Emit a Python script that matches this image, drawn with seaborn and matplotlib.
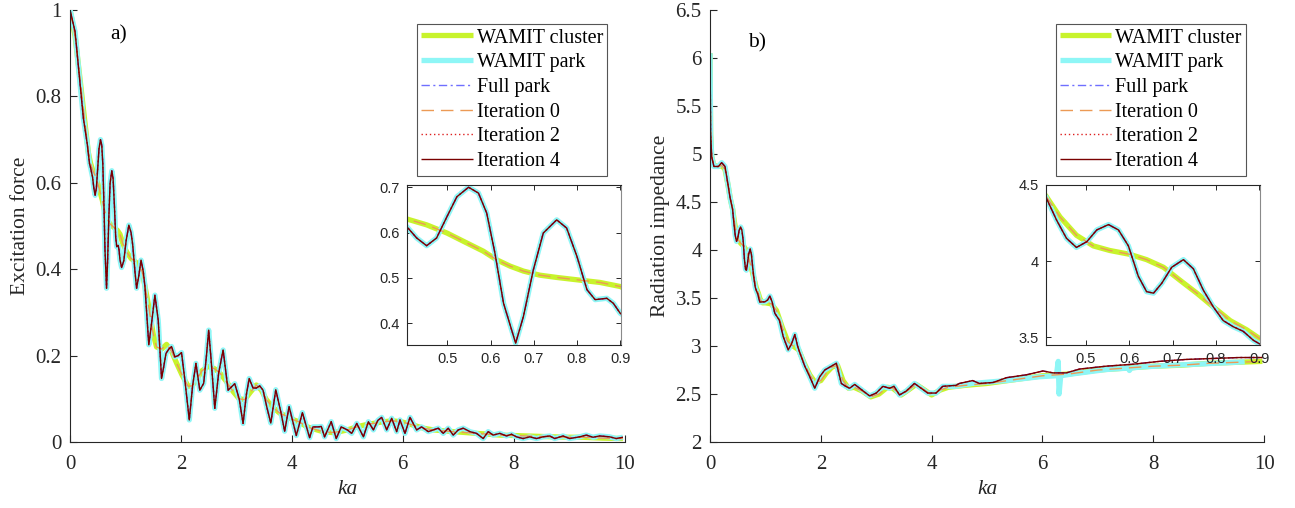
import matplotlib
matplotlib.use("Agg")
import matplotlib.pyplot as plt
import seaborn as sns
from matplotlib.ticker import FuncFormatter

# ---------------------------------------------------------------------------
# a) Excitation force versus ka
# ---------------------------------------------------------------------------
ka_park_a = [
    0.00, 0.09, 0.18, 0.24, 0.31, 0.35, 0.37, 0.406, 0.429, 0.452, 0.475, 0.499,
    0.522, 0.549, 0.572, 0.591, 0.610, 0.630, 0.658, 0.676, 0.699, 0.722, 0.753,
    0.776, 0.800, 0.823, 0.842, 0.869, 0.884, 0.900, 0.93, 0.97, 1.01, 1.06, 1.10,
    1.13, 1.17, 1.20, 1.24, 1.28, 1.32, 1.35, 1.42, 1.47, 1.53, 1.59, 1.65, 1.69,
    1.73, 1.78, 1.83, 1.89, 1.95, 2.01, 2.07, 2.15, 2.21, 2.27, 2.34, 2.41, 2.46,
    2.50, 2.55, 2.61, 2.68, 2.76, 2.85, 2.97, 3.05, 3.12, 3.18, 3.23, 3.30, 3.36,
    3.42, 3.48, 3.55, 3.62, 3.71, 3.80, 3.87, 3.95, 4.08, 4.19, 4.32, 4.38, 4.47,
    4.53, 4.59, 4.71, 4.80, 4.89, 5.00, 5.08, 5.17, 5.29, 5.38, 5.47, 5.55, 5.62,
    5.71, 5.80, 5.89, 5.95, 6.04, 6.13, 6.25, 6.34, 6.46, 6.55, 6.64, 6.73, 6.82,
    6.91, 7.00, 7.09, 7.21, 7.33, 7.45, 7.54, 7.63, 7.75, 7.87, 7.96, 8.05, 8.17,
    8.29, 8.41, 8.53, 8.65, 8.74, 8.89, 9.01, 9.19, 9.31, 9.43, 9.55, 9.73, 9.85,
    9.97,
]
force_park_a = [
    1.000, 0.950, 0.830, 0.750, 0.690, 0.645, 0.635, 0.613, 0.588, 0.571, 0.588,
    0.635, 0.679, 0.700, 0.687, 0.643, 0.555, 0.444, 0.356, 0.415, 0.518, 0.599,
    0.628, 0.610, 0.547, 0.474, 0.452, 0.455, 0.444, 0.422, 0.404, 0.420, 0.465,
    0.502, 0.485, 0.456, 0.395, 0.356, 0.385, 0.421, 0.395, 0.360, 0.225, 0.275,
    0.340, 0.282, 0.147, 0.175, 0.205, 0.215, 0.221, 0.197, 0.200, 0.207, 0.144,
    0.051, 0.130, 0.182, 0.120, 0.136, 0.200, 0.259, 0.180, 0.078, 0.160, 0.213,
    0.120, 0.135, 0.100, 0.043, 0.110, 0.147, 0.125, 0.125, 0.130, 0.120, 0.080,
    0.044, 0.121, 0.070, 0.025, 0.082, 0.015, 0.068, 0.010, 0.035, 0.035, 0.036,
    0.012, 0.047, 0.008, 0.035, 0.028, 0.020, 0.043, 0.012, 0.047, 0.028, 0.050,
    0.057, 0.028, 0.055, 0.024, 0.051, 0.020, 0.057, 0.028, 0.035, 0.024, 0.028,
    0.032, 0.020, 0.032, 0.016, 0.028, 0.032, 0.024, 0.020, 0.008, 0.024, 0.016,
    0.020, 0.014, 0.018, 0.012, 0.008, 0.012, 0.008, 0.012, 0.014, 0.008, 0.014,
    0.008, 0.012, 0.016, 0.011, 0.014, 0.012, 0.008, 0.011,
]
ka_cluster_a = [
    0.00, 0.09, 0.18, 0.25, 0.33, 0.37, 0.406, 0.452, 0.499, 0.545, 0.583, 0.614,
    0.645, 0.676, 0.714, 0.753, 0.807, 0.853, 0.900, 0.95, 1.02, 1.10, 1.20, 1.30,
    1.41, 1.50, 1.56, 1.65, 1.74, 1.83, 1.92, 2.02, 2.13, 2.20, 2.28, 2.38, 2.49,
    2.60, 2.70, 2.82, 2.94, 3.05, 3.15, 3.25, 3.36, 3.45, 3.54, 3.66, 3.78, 3.90,
    4.02, 4.14, 4.26, 4.40, 4.56, 4.72, 4.86, 5.00, 5.17, 5.33, 5.47, 5.65, 5.83,
    6.00, 6.19, 6.37, 6.55, 6.73, 6.91, 7.12, 7.33, 7.55, 7.75, 8.00, 8.23, 8.47,
    8.71, 8.98, 9.25, 9.60, 9.97,
]
force_cluster_a = [
    1.000, 0.940, 0.840, 0.760, 0.670, 0.645, 0.630, 0.617, 0.599, 0.577, 0.559,
    0.540, 0.526, 0.515, 0.506, 0.501, 0.495, 0.490, 0.481, 0.460, 0.440, 0.425,
    0.415, 0.395, 0.320, 0.250, 0.220, 0.215, 0.226, 0.210, 0.183, 0.155, 0.129,
    0.130, 0.144, 0.165, 0.175, 0.170, 0.160, 0.140, 0.117, 0.100, 0.098, 0.115,
    0.132, 0.120, 0.098, 0.080, 0.067, 0.060, 0.052, 0.046, 0.036, 0.030, 0.024,
    0.022, 0.024, 0.028, 0.035, 0.040, 0.043, 0.047, 0.049, 0.046, 0.039, 0.032,
    0.028, 0.026, 0.024, 0.022, 0.020, 0.018, 0.016, 0.015, 0.014, 0.013, 0.012,
    0.011, 0.011, 0.009, 0.008,
]

# ---------------------------------------------------------------------------
# b) Radiation impedance versus ka
# ---------------------------------------------------------------------------
ka_model_b = [
    0.00, 0.01, 0.03, 0.07, 0.15, 0.21, 0.27, 0.33, 0.36, 0.407, 0.432, 0.455,
    0.478, 0.502, 0.525, 0.552, 0.575, 0.598, 0.621, 0.640, 0.656, 0.675, 0.698,
    0.725, 0.748, 0.771, 0.794, 0.817, 0.840, 0.863, 0.887, 0.901, 0.95, 0.99,
    1.04, 1.08, 1.12, 1.17, 1.25, 1.32, 1.41, 1.47, 1.53, 1.58, 1.62, 1.71, 1.80,
    1.89, 1.98, 2.07, 2.19, 2.28, 2.37, 2.45, 2.52, 2.61, 2.70, 2.88, 3.00, 3.12,
    3.24, 3.32, 3.42, 3.54, 3.69, 3.81, 3.93, 4.08, 4.20, 4.44, 4.50, 4.74, 4.86,
    5.11, 5.35, 5.71, 6.01, 6.19, 6.43, 6.67, 7.15, 7.63, 8.11, 8.59, 9.07, 9.55,
    9.97,
]
imp_model_b = [
    6.05, 5.22, 4.97, 4.87, 4.87, 4.91, 4.87, 4.66, 4.55, 4.423, 4.27, 4.15,
    4.09, 4.128, 4.205, 4.24, 4.205, 4.10, 3.90, 3.80, 3.79, 3.855, 3.96, 4.01,
    3.95, 3.81, 3.70, 3.61, 3.57, 3.54, 3.48, 3.457, 3.46, 3.46, 3.48, 3.52, 3.46,
    3.34, 3.27, 3.10, 2.96, 3.02, 3.12, 3.00, 2.93, 2.79, 2.68, 2.56, 2.68, 2.75,
    2.79, 2.82, 2.61, 2.58, 2.56, 2.60, 2.56, 2.48, 2.51, 2.58, 2.56, 2.58, 2.49,
    2.53, 2.61, 2.56, 2.51, 2.51, 2.58, 2.59, 2.61, 2.64, 2.61, 2.62, 2.67, 2.70,
    2.74, 2.72, 2.72, 2.76, 2.79, 2.81, 2.84, 2.86, 2.87, 2.88, 2.88,
]
ka_wamit_park_b = [
    0.00, 0.01, 0.03, 0.07, 0.15, 0.21, 0.27, 0.33, 0.36, 0.407, 0.432, 0.455,
    0.478, 0.502, 0.525, 0.552, 0.575, 0.598, 0.621, 0.640, 0.656, 0.675, 0.698,
    0.725, 0.748, 0.771, 0.794, 0.817, 0.840, 0.863, 0.887, 0.901, 0.95, 0.99,
    1.04, 1.08, 1.12, 1.17, 1.25, 1.32, 1.41, 1.47, 1.53, 1.58, 1.62, 1.71, 1.80,
    1.89, 1.98, 2.07, 2.19, 2.28, 2.37, 2.45, 2.52, 2.61, 2.70, 2.88, 3.00, 3.12,
    3.24, 3.32, 3.42, 3.54, 3.69, 3.81, 3.93, 4.08, 4.20, 4.44, 4.74, 5.35, 5.95,
    6.25, 6.285, 6.30, 6.33, 6.55, 7.15, 7.55, 7.57, 7.60, 7.75, 8.35, 8.95, 9.65,
]
imp_wamit_park_b = [
    6.05, 5.22, 4.97, 4.87, 4.87, 4.91, 4.87, 4.66, 4.55, 4.423, 4.27, 4.15,
    4.09, 4.128, 4.205, 4.24, 4.205, 4.10, 3.90, 3.80, 3.79, 3.855, 3.96, 4.01,
    3.95, 3.81, 3.70, 3.61, 3.57, 3.54, 3.48, 3.457, 3.46, 3.46, 3.48, 3.52, 3.46,
    3.34, 3.27, 3.10, 2.96, 3.02, 3.12, 3.00, 2.93, 2.79, 2.68, 2.56, 2.68, 2.75,
    2.79, 2.82, 2.61, 2.58, 2.56, 2.60, 2.56, 2.48, 2.51, 2.58, 2.56, 2.58, 2.49,
    2.53, 2.61, 2.56, 2.51, 2.51, 2.58, 2.58, 2.61, 2.64, 2.68, 2.69, 2.84, 2.50,
    2.69, 2.71, 2.755, 2.77, 2.745, 2.77, 2.78, 2.80, 2.815, 2.835,
]
ka_cluster_b = [
    0.00, 0.01, 0.03, 0.07, 0.15, 0.21, 0.27, 0.33, 0.37, 0.407, 0.440, 0.478,
    0.517, 0.555, 0.601, 0.640, 0.679, 0.717, 0.756, 0.794, 0.833, 0.871, 0.902,
    0.95, 1.00, 1.10, 1.20, 1.30, 1.40, 1.50, 1.60, 1.70, 1.80, 1.90, 2.00, 2.10,
    2.20, 2.30, 2.40, 2.50, 2.60, 2.75, 2.90, 3.05, 3.20, 3.30, 3.45, 3.60, 3.72,
    3.85, 4.00, 4.15, 4.30, 4.60, 5.00, 5.50, 6.00, 6.50, 7.00, 7.50, 8.00, 8.50,
    9.00, 9.50, 9.97,
]
imp_cluster_b = [
    6.05, 5.20, 4.97, 4.88, 4.87, 4.88, 4.84, 4.66, 4.52, 4.43, 4.29, 4.17,
    4.10, 4.07, 4.045, 4.01, 3.96, 3.875, 3.79, 3.70, 3.61, 3.55, 3.49,
    3.45, 3.45, 3.44, 3.37, 3.20, 3.05, 3.00, 2.96, 2.82, 2.70, 2.62, 2.64, 2.72,
    2.78, 2.80, 2.64, 2.56, 2.57, 2.53, 2.47, 2.50, 2.57, 2.56, 2.49, 2.55, 2.60,
    2.55, 2.49, 2.54, 2.57, 2.59, 2.61, 2.65, 2.69, 2.71, 2.75, 2.77, 2.79, 2.80,
    2.82, 2.83, 2.84,
]

labels = ["WAMIT cluster", "WAMIT park", "Full park",
          "Iteration 0", "Iteration 2", "Iteration 4"]

styles = {
    "WAMIT cluster": dict(color="#c8f32c", linewidth=3.8, linestyle="-"),
    "WAMIT park":    dict(color="#8ef6f6", linewidth=3.8, linestyle="-"),
    "Full park":     dict(color="#6f6fff", linewidth=1.0, linestyle=(0, (6, 2.5, 1.5, 2.5))),
    "Iteration 0":   dict(color="#ec9a55", linewidth=1.0, linestyle=(0, (9, 5))),
    "Iteration 2":   dict(color="#dd1f1f", linewidth=1.0, linestyle=(0, (1, 2))),
    "Iteration 4":   dict(color="#7a0000", linewidth=1.0, linestyle="-"),
}

sns.set_style("ticks", {"xtick.direction": "in", "ytick.direction": "in",
                        "axes.edgecolor": "#262626"})
plt.rcParams["font.family"] = ["Liberation Serif", "DejaVu Serif"]
plt.rcParams["lines.solid_capstyle"] = "butt"

SERIF = "Liberation Serif"
SANS = "Liberation Sans"
TEXT = "#262626"

fig = plt.figure(figsize=(12.95, 5.08), dpi=100)
ax_a = fig.add_axes([0.0541, 0.1299, 0.4282, 0.8504])
ax_b = fig.add_axes([0.5483, 0.1299, 0.4278, 0.8504])
in_a = fig.add_axes([0.3141, 0.3209, 0.1655, 0.3150])
in_b = fig.add_axes([0.8075, 0.3209, 0.1655, 0.3150])


def draw_series(ax, series):
    for name in labels:
        x, y = series[name]
        sns.lineplot(x=x, y=y, ax=ax, estimator=None, legend=False,
                     label=name, **styles[name])


series_a = {
    "WAMIT cluster": (ka_cluster_a, force_cluster_a),
    "WAMIT park": (ka_park_a, force_park_a),
    "Full park": (ka_park_a, force_park_a),
    "Iteration 0": (ka_cluster_a, force_cluster_a),
    "Iteration 2": (ka_park_a, force_park_a),
    "Iteration 4": (ka_park_a, force_park_a),
}
series_b = {
    "WAMIT cluster": (ka_cluster_b, imp_cluster_b),
    "WAMIT park": (ka_wamit_park_b, imp_wamit_park_b),
    "Full park": (ka_model_b, imp_model_b),
    "Iteration 0": (ka_cluster_b, imp_cluster_b),
    "Iteration 2": (ka_model_b, imp_model_b),
    "Iteration 4": (ka_model_b, imp_model_b),
}

fmt = FuncFormatter(lambda v, _: f"{v:g}")

for ax, series, ylim, yticks, ylabel, tag, tagpos in [
    (ax_a, series_a, (0, 1), [0, 0.2, 0.4, 0.6, 0.8, 1.0], "Excitation force", "a)", (0.072, 0.942)),
    (ax_b, series_b, (2, 6.5), [2, 2.5, 3, 3.5, 4, 4.5, 5, 5.5, 6, 6.5], "Radiation impedance", "b)", (0.069, 0.925)),
]:
    draw_series(ax, series)
    ax.set_xlim(0, 10)
    ax.set_ylim(*ylim)
    ax.set_xticks([0, 2, 4, 6, 8, 10])
    ax.set_yticks(yticks)
    ax.xaxis.set_major_formatter(fmt)
    ax.yaxis.set_major_formatter(fmt)
    sns.despine(ax=ax)
    for s in ("left", "bottom"):
        ax.spines[s].set_linewidth(0.8)
        ax.spines[s].set_color(TEXT)
    ax.tick_params(axis="both", direction="in", length=5, width=0.8,
                   colors=TEXT, labelsize=15, labelcolor=TEXT)
    ax.tick_params(axis="x", pad=9)
    ax.tick_params(axis="y", pad=6)
    for t in ax.get_xticklabels() + ax.get_yticklabels():
        t.set_fontfamily(SERIF)
    ax.set_xlabel("ka", fontsize=15.5, fontstyle="italic", family=SERIF,
                  color=TEXT, labelpad=5)
    ax.set_ylabel(ylabel, fontsize=15.5, family=SERIF, color=TEXT, labelpad=4)
    ax.text(tagpos[0], tagpos[1], tag, transform=ax.transAxes, fontsize=15.5,
            family=SERIF, color="black", ha="left", va="center")
    ax.set_facecolor("white")

# Zoomed views of the low-ka region
for ax, series, xlim, ylim, xticks, yticks in [
    (in_a, series_a, (0.406, 0.902), (0.352, 0.705),
     [0.5, 0.6, 0.7, 0.8, 0.9], [0.4, 0.5, 0.6, 0.7]),
    (in_b, series_b, (0.407, 0.902), (3.45, 4.5),
     [0.5, 0.6, 0.7, 0.8, 0.9], [3.5, 4.0, 4.5]),
]:
    draw_series(ax, series)
    ax.set_xlim(*xlim)
    ax.set_ylim(*ylim)
    ax.set_xticks(xticks)
    ax.set_yticks(yticks)
    ax.xaxis.set_major_formatter(fmt)
    ax.yaxis.set_major_formatter(fmt)
    ax.set_xlabel("")
    ax.set_ylabel("")
    ax.set_facecolor("white")
    for s in ax.spines.values():
        s.set_linewidth(0.8)
        s.set_color(TEXT)
    ax.spines["right"].set_color("#8a8a8a")
    ax.tick_params(axis="both", direction="in", length=3.5, width=0.7,
                   top=True, right=True, colors=TEXT, labelsize=10.5,
                   labelcolor=TEXT, pad=5)
    for t in ax.get_xticklabels() + ax.get_yticklabels():
        t.set_fontfamily(SANS)

# Legends in the upper right of each panel
handles, names = ax_a.get_legend_handles_labels()
for ax, anchor in [(ax_a, (0.3218, 0.9528)), (ax_b, (0.8152, 0.9528))]:
    leg = ax.legend(handles, names, loc="upper left", bbox_to_anchor=anchor,
                    bbox_transform=fig.transFigure, frameon=True,
                    fancybox=False, framealpha=1, edgecolor="#555555",
                    prop={"family": SERIF, "size": 14.5}, handlelength=2.55,
                    handletextpad=0.2, borderpad=0.22, labelspacing=0.28,
                    borderaxespad=0)
    leg.get_frame().set_linewidth(0.8)
    leg.set_zorder(10)
    for t in leg.get_texts():
        t.set_color("black")

fig.savefig("out.png", dpi=100, facecolor="white")
